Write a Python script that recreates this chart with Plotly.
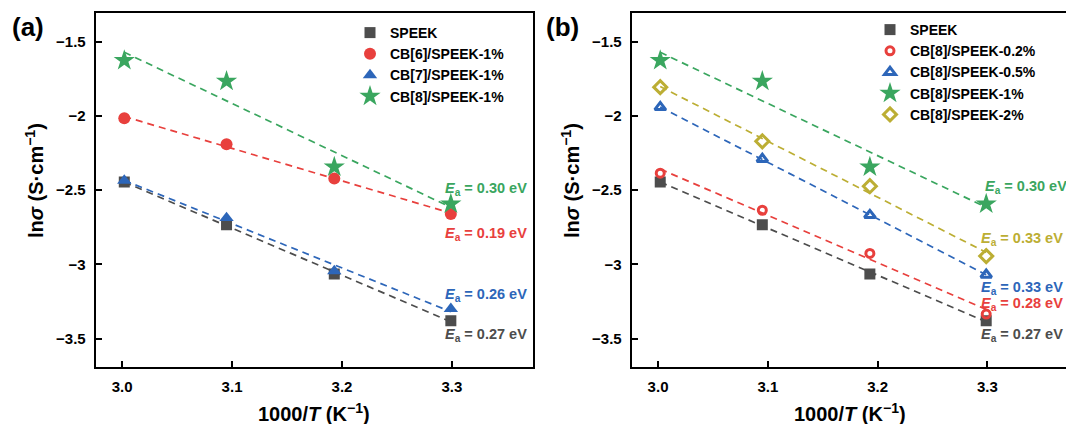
import numpy as np
import plotly.graph_objects as go

W, H = 1066, 424
FONT = "Liberation Sans, Arial, sans-serif"

# ---------------- data ----------------
x_inv_T = [3.002, 3.095, 3.193, 3.299]          # 1000/T (K^-1)

speek   = [-2.445, -2.733, -3.065, -3.380]
cb6_1   = [-2.015, -2.190, -2.421, -2.660]
cb7_1   = [-2.435, -2.687, -3.045, -3.300]
cb8_1   = [-1.625, -1.765, -2.343, -2.592]
cb8_02  = [-2.385, -2.635, -2.926, -3.335]
cb8_05  = [-1.940, -2.290, -2.668, -3.070]
cb8_2   = [-1.805, -2.170, -2.473, -2.944]

names_a = ["SPEEK", "CB[6]/SPEEK-1%", "CB[7]/SPEEK-1%", "CB[8]/SPEEK-1%"]
names_b = ["SPEEK", "CB[8]/SPEEK-0.2%", "CB[8]/SPEEK-0.5%", "CB[8]/SPEEK-1%", "CB[8]/SPEEK-2%"]
ea_a = ["0.27", "0.19", "0.26", "0.30"]
ea_b = ["0.27", "0.28", "0.33", "0.30", "0.33"]
x_ticks = [3.0, 3.1, 3.2, 3.3]
y_ticks = [-3.5, -3.0, -2.5, -2.0, -1.5]

# ---------------- styles ----------------
GRAY, RED, BLUE, GREEN, OLIVE = "#4d4d4d", "#e8403d", "#2d66b9", "#3aa65f", "#bcae34"
series_a = [
    (speek, GRAY, "square", 11, 0),
    (cb6_1, RED, "circle", 12, 0),
    (cb7_1, BLUE, "triangle-up", 12.5, 0),
    (cb8_1, GREEN, "star", 16, 0),
]
series_b = [
    (speek, GRAY, "square", 11, 0),
    (cb8_02, RED, "circle-open", 8, 3),
    (cb8_05, BLUE, "triangle-up-open", 9.5, 3),
    (cb8_1, GREEN, "star", 16, 0),
    (cb8_2, OLIVE, "diamond-open", 10, 3),
]
# label positions in pixels (x, y, anchor)
lab_pos_a = [(529, 335, "right"), (529, 234, "right"), (529, 295, "right"), (529, 189, "right")]
lab_pos_b = [(979, 335, "left"), (979, 304, "left"), (979, 288, "left"), (983, 187, "left"), (979, 239, "left")]


def px(x):
    return x / W


def py(y):
    return 1 - y / H


fig = go.Figure()


def add_panel(series, names, ea, lab_pos, xa, ya, legend_name):
    xs = np.array(x_inv_T)
    # dashed linear fits
    for vals, color, sym, size, lw in series:
        k, b = np.polyfit(xs, np.array(vals), 1)
        xf = np.array([xs[0], xs[-1]])
        fig.add_trace(go.Scatter(x=xf, y=k * xf + b, mode="lines", xaxis=xa, yaxis=ya,
                                 line=dict(color=color, width=1.7, dash="7px,5px"),
                                 showlegend=False, hoverinfo="skip"))
    for (vals, color, sym, size, lw), name in zip(series, names):
        fig.add_trace(go.Scatter(x=x_inv_T, y=vals, mode="markers", name=name, xaxis=xa, yaxis=ya,
                                 legend=legend_name,
                                 marker=dict(symbol=sym, size=size, color=color,
                                             line=dict(color=color, width=lw))))
    for (vals, color, sym, size, lw), e, (lx, ly, anc) in zip(series, ea, lab_pos):
        fig.add_annotation(xref="paper", yref="paper", x=px(lx), y=py(ly), xanchor=anc, yanchor="middle",
                           showarrow=False,
                           text=f"<i>E</i><sub>a</sub> = {e} eV",
                           font=dict(family=FONT, size=14.5, color=color, weight="bold"))


add_panel(series_a, names_a, ea_a, lab_pos_a, "x", "y", "legend")
add_panel(series_b, names_b, ea_b, lab_pos_b, "x2", "y2", "legend2")

tickfont = dict(family=FONT, size=15, color="black", weight="bold")
ax_common = dict(showline=True, linecolor="black", linewidth=2, ticks="inside", ticklen=6, tickwidth=2,
                 tickcolor="black", showgrid=False, zeroline=False, tickfont=tickfont)

ydom = [py(366.7), py(13.3)]
fig.update_layout(
    xaxis=dict(ax_common, domain=[px(95.7), px(533.3)], range=[2.976, 3.374], tickvals=x_ticks,
               tickformat=".1f", mirror=True, anchor="y", ticklabelstandoff=5),
    yaxis=dict(ax_common, domain=ydom, range=[-3.69, -1.307], tickvals=y_ticks, mirror=True,
               anchor="x", ticklabelstandoff=5),
    xaxis2=dict(ax_common, domain=[px(631.7), 1.0], range=[2.976, 3.3717], tickvals=x_ticks,
                tickformat=".1f", mirror=True, anchor="y2", ticklabelstandoff=5),
    yaxis2=dict(ax_common, domain=ydom, range=[-3.69, -1.307], tickvals=y_ticks, mirror=False,
                anchor="x2", ticklabelstandoff=5),
)

legfont = dict(family=FONT, size=14, color="black", weight="bold")
fig.update_layout(
    legend=dict(x=px(350), y=py(17), xanchor="left", yanchor="top", font=legfont,
                bgcolor="rgba(0,0,0,0)", borderwidth=0, tracegroupgap=0),
    legend2=dict(x=px(870), y=py(14), xanchor="left", yanchor="top", font=legfont,
                 bgcolor="rgba(0,0,0,0)", borderwidth=0, tracegroupgap=0),
)

# axis titles and panel labels
title_font = dict(family=FONT, size=20, color="black", weight="bold")
for off in (0, 536):
    fig.add_annotation(xref="paper", yref="paper", x=px(35 + off), y=py(181), textangle=-90,
                       showarrow=False, xanchor="center", yanchor="middle",
                       text="ln<i>σ</i> (S·cm<sup>−1</sup>)", font=title_font)
    fig.add_annotation(xref="paper", yref="paper", x=px(314 + off), y=py(412), showarrow=False,
                       xanchor="center", yanchor="middle",
                       text="1000/<i>T</i> (K<sup>−1</sup>)", font=title_font)
fig.add_annotation(xref="paper", yref="paper", x=px(27.5), y=py(26.5), showarrow=False,
                   xanchor="center", yanchor="middle", text="(a)",
                   font=dict(family=FONT, size=26, color="black", weight="bold"))
fig.add_annotation(xref="paper", yref="paper", x=px(562), y=py(26.5), showarrow=False,
                   xanchor="center", yanchor="middle", text="(b)",
                   font=dict(family=FONT, size=26, color="black", weight="bold"))

fig.update_layout(width=W, height=H, autosize=False, margin=dict(l=0, r=0, t=0, b=0),
                  paper_bgcolor="white", plot_bgcolor="white")

fig.write_html("out.html")
